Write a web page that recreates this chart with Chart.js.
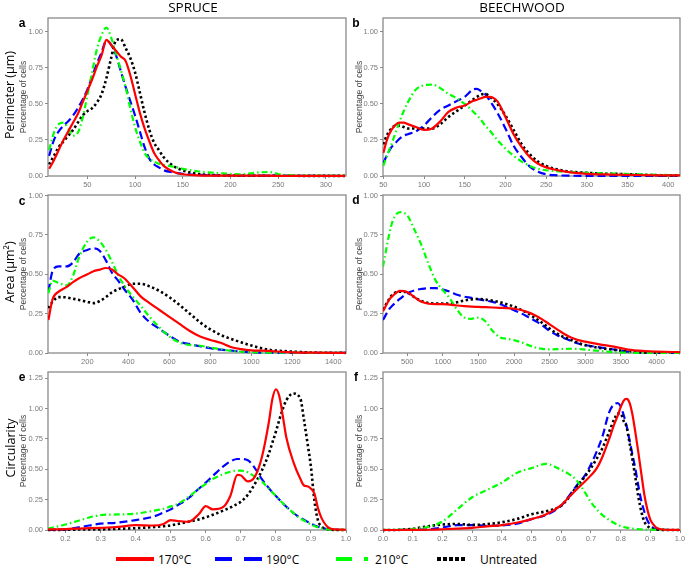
<!DOCTYPE html>
<html><head><meta charset="utf-8">
<script src="https://cdn.jsdelivr.net/npm/chart.js@4"></script>
<style>
body{margin:0;width:685px;height:565px;background:#fff;position:relative;overflow:hidden;font-family:"Liberation Sans",Arial,sans-serif;}
canvas{position:absolute;}
.t{position:absolute;white-space:nowrap;color:#000;}
.col{font-family:"Open Sans",sans-serif;font-size:13.5px;transform:translate(-50%,-50%);}
.row{font-family:"Open Sans",sans-serif;font-size:12.5px;transform:translate(-50%,-50%) rotate(-90deg);}
.let{font-family:"Liberation Sans",Arial,sans-serif;font-weight:bold;font-size:12px;transform:translate(-50%,-50%);}
.lg{font-family:"Open Sans",sans-serif;font-size:12px;transform:translateY(-50%);}
.sw{position:absolute;height:4px;}
</style></head><body>
<script>
// ---------- data ----------
const seriesNames = ['170°C','190°C','210°C','Untreated'];

const yTicksStd = [0, 0.25, 0.5, 0.75, 1.0];
const yLabelsStd = ['0.00','0.25','0.50','0.75','1.00'];
const yTicksCirc = [0, 0.25, 0.5, 0.75, 1.0, 1.25];
const yLabelsCirc = ['0.00','0.25','0.50','0.75','1.00','1.25'];

// (a) Perimeter, spruce
const perimSpruceTicks = [50,100,150,200,250,300];
const perimSpruceX = [10,15,20,25,30,35,40,45,50,55,60,65,70,75,80,85,90,95,100,105,110,115,120,125,130,140,150,165,185,210,230,240,255,280,320];
const perimSpruce170 = [0.05,0.11,0.18,0.25,0.31,0.37,0.43,0.51,0.59,0.67,0.76,0.84,0.945,0.91,0.87,0.83,0.80,0.70,0.57,0.44,0.33,0.24,0.16,0.11,0.07,0.03,0.012,0.005,0.003,0.002,0.002,0.002,0.001,0.001,0.001];
const perimSpruce190 = [0.14,0.25,0.31,0.35,0.38,0.42,0.47,0.53,0.60,0.69,0.78,0.86,0.94,0.91,0.84,0.73,0.62,0.52,0.42,0.31,0.20,0.12,0.08,0.06,0.04,0.025,0.015,0.008,0.005,0.003,0.002,0.002,0.002,0.001,0.001];
const perimSpruce210 = [0.18,0.30,0.36,0.37,0.33,0.28,0.30,0.40,0.56,0.72,0.88,0.98,1.03,0.96,0.85,0.74,0.62,0.47,0.34,0.24,0.16,0.12,0.10,0.085,0.077,0.065,0.05,0.033,0.022,0.012,0.025,0.028,0.008,0.003,0.002];
const perimSpruceUnt = [0.08,0.14,0.20,0.24,0.28,0.32,0.37,0.42,0.45,0.47,0.51,0.57,0.68,0.82,0.94,0.95,0.89,0.82,0.72,0.58,0.44,0.32,0.23,0.18,0.13,0.07,0.04,0.015,0.006,0.003,0.002,0.002,0.002,0.001,0.001];

// (b) Perimeter, beechwood
const perimBeechTicks = [50,100,150,200,250,300,350,400];
const perimBeechX = [50,55,60,65,70,75,80,90,100,110,120,130,140,150,160,165,170,175,180,190,200,210,220,230,240,250,260,280,300,330,360,390,415];
const perimBeech170 = [0.16,0.26,0.32,0.355,0.37,0.37,0.36,0.34,0.32,0.33,0.38,0.445,0.475,0.49,0.52,0.53,0.54,0.55,0.55,0.52,0.41,0.29,0.20,0.13,0.085,0.06,0.045,0.025,0.015,0.01,0.007,0.005,0.004];
const perimBeech190 = [0.09,0.15,0.20,0.23,0.26,0.28,0.29,0.31,0.35,0.41,0.46,0.49,0.52,0.55,0.60,0.605,0.59,0.57,0.53,0.44,0.33,0.21,0.13,0.065,0.03,0.012,0.006,0.002,0.001,0.001,0.001,0.001,0.001];
const perimBeech210 = [0.07,0.15,0.22,0.30,0.38,0.45,0.51,0.60,0.63,0.635,0.61,0.57,0.54,0.50,0.45,0.42,0.39,0.35,0.32,0.25,0.19,0.14,0.10,0.07,0.05,0.04,0.035,0.027,0.022,0.017,0.013,0.008,0.005];
const perimBeechUnt = [0.22,0.29,0.33,0.35,0.35,0.34,0.33,0.33,0.33,0.33,0.36,0.41,0.45,0.49,0.53,0.55,0.565,0.57,0.555,0.50,0.42,0.32,0.22,0.15,0.10,0.07,0.05,0.03,0.022,0.016,0.01,0.005,0.003];

// (c) Area, spruce
const areaSpruceTicks = [200,400,600,800,1000,1200,1400];
const areaSpruceX = [10,30,60,100,130,160,200,230,260,290,320,350,380,420,460,500,550,600,650,700,750,800,850,900,950,1000,1050,1100,1150,1200,1300,1460];
const areaSpruce170 = [0.21,0.34,0.39,0.42,0.45,0.475,0.50,0.52,0.53,0.54,0.53,0.50,0.475,0.42,0.36,0.32,0.275,0.23,0.185,0.14,0.105,0.083,0.065,0.038,0.025,0.017,0.015,0.012,0.007,0.004,0.002,0.001];
const areaSpruce190 = [0.39,0.52,0.55,0.55,0.575,0.63,0.655,0.665,0.65,0.59,0.51,0.46,0.405,0.34,0.255,0.20,0.155,0.11,0.072,0.056,0.043,0.03,0.021,0.016,0.009,0.005,0.003,0.002,0.001,0.001,0.001,0.001];
const areaSpruce210 = [0.38,0.46,0.445,0.43,0.49,0.61,0.71,0.735,0.71,0.655,0.58,0.495,0.43,0.36,0.30,0.235,0.165,0.105,0.066,0.051,0.046,0.035,0.024,0.014,0.008,0.005,0.003,0.002,0.002,0.002,0.001,0.001];
const areaSpruceUnt = [0.285,0.325,0.355,0.353,0.345,0.337,0.325,0.317,0.33,0.355,0.385,0.405,0.42,0.44,0.44,0.425,0.395,0.355,0.305,0.25,0.195,0.15,0.115,0.09,0.068,0.048,0.03,0.018,0.013,0.009,0.003,0.001];

// (d) Area, beechwood
const areaBeechTicks = [500,1000,1500,2000,2500,3000,3500,4000];
const areaBeechX = [160,250,300,400,500,600,700,800,900,1000,1100,1200,1300,1400,1500,1600,1700,1800,1900,2000,2100,2200,2300,2400,2500,2600,2700,2800,2900,3000,3200,3400,3600,3800,4000,4330];
const areaBeech170 = [0.265,0.34,0.365,0.395,0.387,0.355,0.325,0.313,0.31,0.31,0.308,0.302,0.298,0.295,0.293,0.291,0.289,0.287,0.285,0.281,0.273,0.258,0.238,0.212,0.182,0.152,0.122,0.098,0.082,0.072,0.055,0.04,0.022,0.013,0.009,0.005];
const areaBeech190 = [0.21,0.28,0.305,0.345,0.38,0.398,0.407,0.412,0.412,0.403,0.39,0.37,0.358,0.35,0.341,0.333,0.325,0.311,0.292,0.272,0.252,0.228,0.203,0.175,0.14,0.115,0.095,0.076,0.06,0.05,0.036,0.022,0.008,0.002,0.001,0.001];
const areaBeech210 = [0.55,0.76,0.845,0.895,0.875,0.785,0.685,0.565,0.46,0.40,0.345,0.275,0.225,0.217,0.225,0.20,0.14,0.10,0.09,0.082,0.068,0.05,0.035,0.026,0.023,0.024,0.026,0.027,0.026,0.022,0.013,0.005,0.002,0.001,0.001,0.001];
const areaBeechUnt = [0.275,0.345,0.375,0.39,0.385,0.355,0.33,0.318,0.314,0.314,0.315,0.323,0.333,0.341,0.343,0.339,0.332,0.323,0.31,0.295,0.274,0.25,0.22,0.19,0.155,0.125,0.10,0.083,0.064,0.05,0.032,0.02,0.011,0.004,0.002,0.001];

// (e) Circularity, spruce
const circSpruceTicks = [0.2,0.3,0.4,0.5,0.6,0.7,0.8,0.9,1.0];
const circSpruceLabels = ['0.2','0.3','0.4','0.5','0.6','0.7','0.8','0.9','1.0'];
const circSpruceX = [0.15,0.2,0.25,0.3,0.35,0.4,0.45,0.48,0.5,0.52,0.55,0.58,0.6,0.62,0.65,0.67,0.69,0.7,0.72,0.74,0.76,0.78,0.79,0.8,0.81,0.82,0.83,0.85,0.87,0.88,0.89,0.9,0.91,0.92,0.93,0.95,0.97,1.0];
const circSpruce170 = [0.005,0.008,0.014,0.018,0.025,0.04,0.037,0.05,0.082,0.074,0.068,0.13,0.197,0.17,0.19,0.28,0.455,0.45,0.40,0.44,0.60,0.89,1.08,1.16,1.10,0.935,0.76,0.56,0.42,0.367,0.36,0.34,0.30,0.18,0.10,0.02,0.005,0.002];
const circSpruce190 = [0,0.005,0.028,0.052,0.061,0.082,0.11,0.145,0.17,0.205,0.26,0.34,0.39,0.445,0.525,0.565,0.585,0.585,0.575,0.51,0.42,0.345,0.31,0.28,0.25,0.22,0.192,0.14,0.10,0.085,0.068,0.052,0.038,0.027,0.018,0.006,0.001,0];
const circSpruce210 = [0.011,0.045,0.088,0.123,0.128,0.135,0.158,0.175,0.195,0.215,0.27,0.34,0.38,0.42,0.46,0.48,0.49,0.49,0.475,0.44,0.40,0.34,0.31,0.28,0.25,0.22,0.19,0.14,0.095,0.078,0.06,0.046,0.033,0.022,0.014,0.005,0.002,0];
const circSpruceUnt = [0,0.002,0.004,0.005,0.01,0.015,0.024,0.031,0.038,0.05,0.068,0.087,0.105,0.125,0.16,0.185,0.215,0.232,0.29,0.38,0.49,0.63,0.72,0.81,0.91,1.0,1.07,1.125,1.08,0.91,0.72,0.52,0.24,0.08,0.03,0.005,0.001,0];

// (f) Circularity, beechwood
const circBeechTicks = [0,0.1,0.2,0.3,0.4,0.5,0.6,0.7,0.8,0.9,1.0];
const circBeechLabels = ['0.0','0.1','0.2','0.3','0.4','0.5','0.6','0.7','0.8','0.9','1.0'];
const circBeechX = [0,0.05,0.1,0.15,0.2,0.25,0.3,0.35,0.4,0.45,0.5,0.55,0.6,0.62,0.65,0.68,0.7,0.72,0.74,0.76,0.78,0.79,0.8,0.81,0.82,0.83,0.84,0.85,0.86,0.87,0.88,0.89,0.9,0.91,0.92,0.94,0.97,1.0];
const circBeech170 = [0,0,0.001,0.002,0.006,0.011,0.018,0.03,0.04,0.06,0.09,0.13,0.205,0.255,0.33,0.40,0.45,0.51,0.61,0.74,0.88,0.94,1.01,1.065,1.08,1.05,0.95,0.80,0.635,0.46,0.29,0.17,0.085,0.046,0.02,0.004,0.001,0];
const circBeech190 = [0,0,0.002,0.005,0.02,0.04,0.04,0.035,0.038,0.052,0.09,0.125,0.20,0.26,0.36,0.45,0.54,0.65,0.78,0.96,1.04,1.045,1.02,0.95,0.86,0.74,0.62,0.50,0.36,0.24,0.15,0.08,0.04,0.018,0.007,0.001,0,0];
const circBeech210 = [0,0.002,0.008,0.025,0.07,0.17,0.27,0.33,0.39,0.47,0.51,0.545,0.495,0.47,0.415,0.31,0.23,0.17,0.12,0.085,0.055,0.042,0.032,0.025,0.02,0.016,0.012,0.009,0.007,0.005,0.004,0.003,0.003,0.002,0.002,0.001,0,0];
const circBeechUnt = [0,0.001,0.01,0.03,0.045,0.05,0.042,0.048,0.064,0.09,0.13,0.155,0.20,0.25,0.35,0.44,0.51,0.59,0.68,0.80,0.92,0.96,0.96,0.90,0.85,0.72,0.58,0.43,0.27,0.15,0.07,0.035,0.015,0.007,0.003,0.001,0,0];

// ---------- styling ----------
const colors = ['#ff0000','#0000ff','#00ff00','#000000'];
const widths = [2.2, 2.2, 2.2, 2.6];
const dashes = [[], [8,4], [6,3,1.5,3], [2.4,2.6]];
const drawOrder = [0, 3, 1, 2]; // smaller = drawn on top

const framePlugin = {
  id:'frame',
  beforeDatasetsDraw(chart){
    const {ctx, chartArea:a} = chart;
    ctx.save();
    ctx.strokeStyle = '#8a8a8a';
    ctx.lineWidth = 1.3;
    ctx.strokeRect(a.left, a.top, a.right - a.left, a.bottom - a.top);
    ctx.restore();
  }
};

function panel(frame, xr, yr, xTicks, xLabels, yTicks, yLabels, xs, series, yw, titlePad){
  const pt = 5, pr = 6, xh = 14;
  const [L,T,R,B] = frame;
  const cv = document.createElement('canvas');
  const w = (R - L) + yw + pr, h = (B - T) + pt + xh;
  cv.width = w; cv.height = h;
  cv.style.left = (L - yw) + 'px'; cv.style.top = (T - pt) + 'px';
  cv.style.width = w + 'px'; cv.style.height = h + 'px';
  document.body.appendChild(cv);
  const tickFont = {family:'"Liberation Sans", Arial, sans-serif', size:7.5};
  new Chart(cv, {
    type:'line',
    data:{datasets: series.map((ys,i)=>({
      label: seriesNames[i],
      data: xs.map((x,j)=>({x:x, y:ys[j]})),
      borderColor: colors[i], borderWidth: widths[i], borderDash: dashes[i],
      borderCapStyle:'butt', pointRadius:0, fill:false,
      cubicInterpolationMode:'monotone', order: drawOrder[i],
      clip:{left:0, top:0, right:0, bottom:3}
    }))},
    options:{
      responsive:false, animation:false, events:[], devicePixelRatio:1,
      layout:{padding:{left:0, top:pt, right:pr, bottom:0}},
      plugins:{legend:{display:false}, tooltip:{enabled:false}},
      scales:{
        x:{type:'linear', min:xr[0], max:xr[1],
          afterBuildTicks:s=>{ s.ticks = xTicks.map(v=>({value:v})); },
          afterFit:s=>{ s.height = xh; s.paddingLeft = 0; s.paddingRight = 0; },
          grid:{display:true, drawOnChartArea:false, drawTicks:true, tickLength:3, color:'#8a8a8a'},
          border:{display:false},
          ticks:{font:tickFont, color:'#7a7a7a', padding:1, autoSkip:false, maxRotation:0, minRotation:0,
            callback:(v,i)=> xLabels ? xLabels[i] : String(xTicks[i])}
        },
        y:{type:'linear', min:yr[0], max:yr[1],
          afterBuildTicks:s=>{ s.ticks = yTicks.map(v=>({value:v})); },
          afterFit:s=>{ s.width = yw; s.paddingTop = 0; s.paddingBottom = 0; },
          grid:{display:true, drawOnChartArea:false, drawTicks:true, tickLength:3, color:'#8a8a8a'},
          border:{display:false},
          ticks:{font:tickFont, color:'#7a7a7a', padding:2, autoSkip:false,
            callback:(v,i)=> yLabels[i]},
          title:{display:true, text:'Percentage of cells', color:'#444',
            font:{family:'"Liberation Sans", Arial, sans-serif', size:8.5}, padding:{top:titlePad, bottom:0}}
        }
      }
    },
    plugins:[framePlugin]
  });
}

panel([48,18,346,176], [8.8,321], [0,1.097], perimSpruceTicks, null, yTicksStd, yLabelsStd,
  perimSpruceX, [perimSpruce170, perimSpruce190, perimSpruce210, perimSpruceUnt], 34, 5);
panel([383,18,680,176], [49.6,414.4], [0,1.097], perimBeechTicks, null, yTicksStd, yLabelsStd,
  perimBeechX, [perimBeech170, perimBeech190, perimBeech210, perimBeechUnt], 30, 2);
panel([48,195,346,353], [8,1462], [0,1.004], areaSpruceTicks, null, yTicksStd, yLabelsStd,
  areaSpruceX, [areaSpruce170, areaSpruce190, areaSpruce210, areaSpruceUnt], 34, 5);
panel([383,195,680,353], [160,4330], [0,1.004], areaBeechTicks, null, yTicksStd, yLabelsStd,
  areaBeechX, [areaBeech170, areaBeech190, areaBeech210, areaBeechUnt], 30, 2);
panel([48,372,346,530], [0.15,1.0], [0,1.302], circSpruceTicks, circSpruceLabels, yTicksCirc, yLabelsCirc,
  circSpruceX, [circSpruce170, circSpruce190, circSpruce210, circSpruceUnt], 34, 5);
panel([383,372,680,530], [0,1.0], [0,1.302], circBeechTicks, circBeechLabels, yTicksCirc, yLabelsCirc,
  circBeechX, [circBeech170, circBeech190, circBeech210, circBeechUnt], 30, 2);

// ---------- text overlays ----------
function txt(cls, s, x, y){
  const d = document.createElement('div');
  d.className = 't ' + cls; d.textContent = s;
  d.style.left = x + 'px'; d.style.top = y + 'px';
  document.body.appendChild(d);
}
txt('col','SPRUCE',193,7);
txt('col','BEECHWOOD',522,7);
txt('row','Perimeter (µm)',9,95);
txt('row','Area (µm²)',9,272);
txt('row','Circularity',10,448);
txt('let','a',22,23); txt('let','b',356,23);
txt('let','c',22,201); txt('let','d',356,200);
txt('let','e',22,377); txt('let','f',356,377);

// legend
function sw(x, w, c){
  const d = document.createElement('div');
  d.className = 'sw'; d.style.left = x + 'px'; d.style.top = '557px';
  d.style.width = w + 'px'; d.style.background = c;
  document.body.appendChild(d);
}
sw(116,38,colors[0]);
sw(215,17,colors[1]); sw(244,18,colors[1]);
sw(336,16,colors[2]); sw(364,4,colors[2]);
[437,443,449,455,461].forEach(x=>sw(x,4,colors[3]));
txt('lg',seriesNames[0],158,559);
txt('lg',seriesNames[1],266,559);
txt('lg',seriesNames[2],375,559);
txt('lg',seriesNames[3],480,559);
</script>
</body></html>
